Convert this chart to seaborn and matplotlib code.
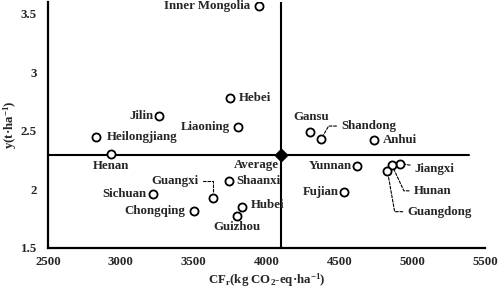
import matplotlib
matplotlib.use("Agg")
import matplotlib.pyplot as plt
import seaborn as sns
import pandas as pd

# provinces, carbon footprint (CFr) and yield
provinces = ["Inner Mongolia", "Jilin", "Heilongjiang", "Hebei", "Liaoning", "Gansu",
             "Shandong", "Anhui", "Henan", "Sichuan", "Guangxi", "Chongqing", "Shaanxi",
             "Hubei", "Guizhou", "Yunnan", "Fujian", "Jiangxi", "Hunan", "Guangdong"]
cf_values = [3950, 3265, 2830, 3750, 3805, 4300, 4375, 4740, 2935, 3220, 3630, 3505,
             3740, 3835, 3800, 4620, 4535, 4915, 4860, 4830]
yield_values = [3.57, 2.63, 2.45, 2.78, 2.53, 2.49, 2.43, 2.42, 2.30, 1.96, 1.93, 1.82,
                2.07, 1.85, 1.77, 2.20, 1.98, 2.22, 2.21, 2.16]
avg_cf = 4100
avg_yield = 2.29

df = pd.DataFrame({"province": provinces, "cf": cf_values, "y": yield_values})

sns.set_style("white")
plt.rcParams["font.family"] = ["Liberation Serif", "DejaVu Serif"]
plt.rcParams["font.weight"] = "bold"
plt.rcParams["mathtext.fontset"] = "custom"
plt.rcParams["mathtext.rm"] = "Liberation Serif:bold"
plt.rcParams["mathtext.bf"] = "Liberation Serif:bold"
plt.rcParams["mathtext.it"] = "Liberation Serif:bold"

fig = plt.figure(figsize=(4.98, 2.91), dpi=100)
ax = fig.add_axes([48 / 498, 43 / 291, 437 / 498, 246 / 291])

# average cross lines
ax.axvline(avg_cf, color="black", lw=1.5, zorder=1)
ax.axhline(avg_yield, xmin=0, xmax=(5390 - 2500) / 3000, color="black", lw=1.5, zorder=1)

sns.scatterplot(data=df, x="cf", y="y", ax=ax, marker="o", s=34,
                facecolor="white", edgecolor="black", linewidth=1.3, zorder=3)
ax.scatter([avg_cf], [avg_yield], marker="D", s=40, color="black", zorder=4)

# label offsets in pixels: (dx, dy, ha, leader connection)
offsets = {
    "Inner Mongolia": (-9, 0, "right", None),
    "Jilin": (-6, 0, "right", None),
    "Heilongjiang": (11, 0, "left", None),
    "Hebei": (9, 0, "left", None),
    "Liaoning": (-8, 0, "right", None),
    "Gansu": (1, 15, "center", None),
    "Shandong": (20, 13, "left", "angle,angleA=0,angleB=60,rad=0"),
    "Anhui": (9, 0, "left", None),
    "Henan": (0, -12, "center", None),
    "Sichuan": (-6, 0, "right", None),
    "Guangxi": (-14, 17, "right", "angle,angleA=0,angleB=90,rad=0"),
    "Chongqing": (-9, 0, "right", None),
    "Shaanxi": (8, 0, "left", None),
    "Hubei": (8, 2, "left", None),
    "Guizhou": (0, -11, "center", None),
    "Yunnan": (-5, 0, "right", None),
    "Fujian": (-6, 0, "right", None),
    "Jiangxi": (15, -5, "left", "arc3,rad=0"),
    "Hunan": (22, -26, "left", "angle,angleA=0,angleB=-65,rad=0"),
    "Guangdong": (20, -41, "left", "angle,angleA=0,angleB=-80,rad=0"),
}

for name, cx, cy in zip(provinces, cf_values, yield_values):
    dx, dy, ha, conn = offsets[name]
    arrow = None
    if conn:
        arrow = dict(arrowstyle="-", ls=(0, (2.5, 1.5)), lw=0.8, color="black",
                     connectionstyle=conn, shrinkA=1, shrinkB=3.5)
    ax.annotate(name, xy=(cx, cy), xytext=(dx, dy), textcoords="offset pixels",
                ha=ha, va="center", fontsize=9.3, fontweight="bold", arrowprops=arrow)

ax.annotate("Average", xy=(avg_cf, avg_yield), xytext=(-2, -10), textcoords="offset pixels",
            ha="right", va="center", fontsize=9.3, fontweight="bold")

ax.set_xlim(2500, 5500)
ax.set_ylim(1.5, 3.6)
ax.set_xticks([2500, 3000, 3500, 4000, 4500, 5000, 5500])
ax.set_yticks([1.5, 2, 2.5, 3, 3.5])
ax.set_yticklabels(["1.5", "2", "2.5", "3", "3.5"])
ax.tick_params(direction="in", length=3, width=1.2, labelsize=9.3)
ax.tick_params(axis="x", pad=6)
ax.tick_params(axis="y", pad=8)
for lab in ax.get_xticklabels() + ax.get_yticklabels():
    lab.set_fontweight("bold")

sns.despine(ax=ax)
for side in ["left", "bottom"]:
    ax.spines[side].set_linewidth(1.6)
    ax.spines[side].set_color("black")

ax.set_xlabel(r"CF$_{r}$(kg CO$_{2}$-eq·ha$^{-1}$)", fontsize=9.3, fontweight="bold", labelpad=2)
ax.set_ylabel(r"y(t·ha$^{-1}$)", fontsize=9.3, fontweight="bold", labelpad=1)

fig.savefig("out.png", dpi=100)
